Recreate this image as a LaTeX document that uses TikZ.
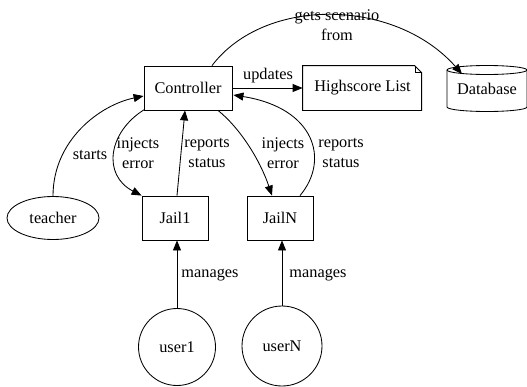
\documentclass[tikz,border=0pt]{standalone}
\usepackage{fontspec}
\setmainfont{Liberation Serif}
\usetikzlibrary{arrows.meta,calc,shapes.geometric}
\begin{document}
\begin{tikzpicture}[x=1pt,y=-1pt,
  every node/.style={font=\fontsize{16.3}{20}\selectfont},
  box/.style={draw,minimum width=88pt,minimum height=44pt,inner sep=0pt},
  jail/.style={draw,minimum width=66pt,minimum height=44pt,inner sep=0pt},
  lbl/.style={align=center,inner sep=0pt},
  edge/.style={-{Triangle[length=10pt,width=8pt]}},
  line width=0.85pt]
\useasboundingbox (0,0) rectangle (527,386);
\node[box] (ctrl) at (188,88) {Controller};
\node[inner sep=0pt,minimum width=119pt,minimum height=44pt] (hs) at (362.5,88) {Highscore List};
\draw (hs.north west) -- ++(112,0) -- ++(7,7) |- (hs.south west) -- cycle;
\draw ($(hs.north east)+(-7,0)$) -- ++(0,7) -- ++(7,0);
\node[inner sep=0pt,minimum width=80pt,minimum height=44pt] (db) at (487,89) {Database};
\draw (447,70) arc[start angle=180,end angle=360,x radius=40,y radius=4.5] -- (527,107)
      arc[start angle=0,end angle=180,x radius=40,y radius=4.5] -- cycle;
\draw (447,70) arc[start angle=180,end angle=0,x radius=40,y radius=4.5];
\coordinate (dbtop) at (462,74);
\node[draw,ellipse,minimum width=92pt,minimum height=43pt,inner sep=0pt] (teacher) at (53,218) {teacher};
\node[jail] (j1) at (175,218) {Jail1};
\node[jail] (jn) at (280,218) {JailN};
\node[draw,circle,minimum size=77pt,inner sep=0pt] (u1) at (177,347) {user1};
\node[draw,circle,minimum size=80pt,inner sep=0pt] (un) at (282,346) {userN};
% edges
\draw[edge] (ctrl.east) -- (hs.west);
\node[lbl] (lup) at (268,76) {updates};
\draw[edge] ($(ctrl.north)+(24,0)$) .. controls (265,-4) and (395,-2) .. (dbtop);
\node[lbl] (lgs) at (337,25) {gets scenario\\from};
\draw[edge] (teacher.north) .. controls (53,140) and (100,105) .. ($(ctrl.west)+(0,8)$);
\node[lbl] (lst) at (90,155) {starts};
\draw[edge] ($(ctrl.south west)+(1,-1)$) .. controls (108,132) and (102,175) .. (j1.north west);
\node[lbl] (lie1) at (138,153) {injects\\error};
\draw[edge] ($(j1.north)+(2,0)$) -- ($(ctrl.south)+(-3,0)$);
\node[lbl] (lrs1) at (207,153) {reports\\status};
\draw[edge] ($(ctrl.south)+(30,0)$) .. controls (240,128) and (260,160) .. ($(jn.north)+(-8,0)$);
\node[lbl] (lie2) at (283,153) {injects\\error};
\draw[edge] ($(jn.north)+(20,0)$) .. controls (330,160) and (315,108) .. ($(ctrl.east)+(1,7)$);
\node[lbl] (lrs2) at (341,153) {reports\\status};
\draw[edge] (u1.north) -- (u1.north |- j1.south);
\node[lbl] (lm1) at (210,275) {manages};
\draw[edge] (un.north) -- (un.north |- jn.south);
\node[lbl] (lm2) at (318,275) {manages};
\end{tikzpicture}
\end{document}
